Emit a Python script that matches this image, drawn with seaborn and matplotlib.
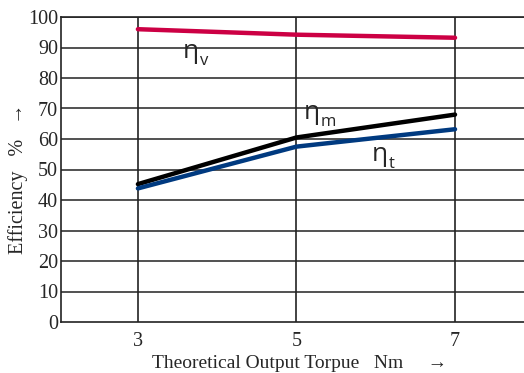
import numpy as np
import pandas as pd
import seaborn as sns
import matplotlib.pyplot as plt

torque = [3, 5, 7]
eta_v = [96.0, 94.2, 93.2]
eta_m = [45.2, 60.5, 68.0]
eta_t = [43.8, 57.5, 63.2]

df = pd.DataFrame({"torque": torque * 3,
                   "eff": eta_v + eta_m + eta_t,
                   "curve": ["v"] * 3 + ["m"] * 3 + ["t"] * 3})

sns.set_style("white")
plt.rcParams['font.family'] = ['Liberation Serif', 'DejaVu Serif']

fig = plt.figure(figsize=(5.24, 3.73), dpi=100)
ax = fig.add_axes([61 / 524, 51 / 373, 1 - 61 / 524, 305 / 373])

# grid first so curves sit on top
for y in range(10, 101, 10):
    ax.axhline(y, color="#333333", lw=1.2, zorder=1)
for x in torque:
    ax.axvline(x, color="#222222", lw=1.2, zorder=1)

sns.lineplot(data=df, x="torque", y="eff", hue="curve",
             palette={"v": "#cc0044", "m": "#000000", "t": "#003a80"},
             linewidth=3.2, legend=False, ax=ax, zorder=3)

ax.set_xlim(2.03, 7.87)
ax.set_ylim(0, 100)
ax.set_xticks(torque)
ax.set_yticks(range(0, 101, 10))
ax.tick_params(axis="both", length=0, labelsize=14.5, pad=2)
ax.tick_params(axis="x", pad=7)

for side in ["top", "left", "bottom"]:
    ax.spines[side].set_color("#222222")
    ax.spines[side].set_linewidth(1.2)
ax.spines["right"].set_visible(False)

ax.set_xlabel("Theoretical Output Torpue   Nm     \u2192", fontsize=14)
ax.set_ylabel("Efficiency   %   \u2192", fontsize=14.5)
ax.xaxis.set_label_coords(0.516, -0.107)
ax.yaxis.set_label_coords(-0.071, 0.47)

sans = ["Open Sans", "DejaVu Sans"]
labels = [(3.57, 86.5, "v"), (5.09, 66.5, "m"), (5.95, 52.7, "t")]
for x, y, sub in labels:
    ax.text(x, y, "\u03b7", fontsize=19, family=sans, va="baseline", zorder=4)
    ax.annotate(sub, (x, y), xytext=(12, -5), textcoords="offset points",
                fontsize=12, family=sans, va="baseline", zorder=4)

fig.savefig("out.png", dpi=100)
